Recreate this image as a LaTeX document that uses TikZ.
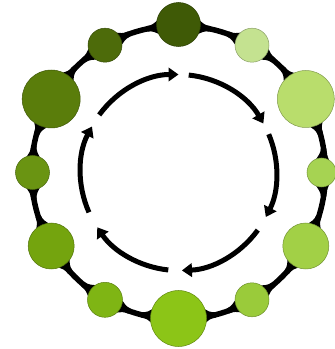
\documentclass[tikz,border=0pt]{standalone}
\usetikzlibrary{arrows.meta,calc}
\definecolor{c1}{HTML}{3F5A06}
\definecolor{c2}{HTML}{4D6B0A}
\definecolor{c3}{HTML}{5A7D0B}
\definecolor{c4}{HTML}{6A9412}
\definecolor{c5}{HTML}{74A40E}
\definecolor{c6}{HTML}{7FB514}
\definecolor{c7}{HTML}{8CC517}
\definecolor{c8}{HTML}{9ACB3A}
\definecolor{c9}{HTML}{A2D046}
\definecolor{c10}{HTML}{A6D352}
\definecolor{c11}{HTML}{B9DD6C}
\definecolor{c12}{HTML}{C4E290}
\tikzset{
  ball/.style={circle, inner sep=0pt, line width=0.5pt},
  arr/.style={line width=5pt, -{Triangle[length=10pt,width=13.5pt]}},
  ringline/.style={line width=5.5pt, black}
}
\begin{document}
\begin{tikzpicture}[x=1pt,y=1pt]
\useasboundingbox (0,0) rectangle (335,349);
\coordinate (O) at (178.5,176.5);
\def\R{147}
\draw[ringline] (O) circle[radius=\R];
\foreach \ang/\rad/\dist/\col [count=\i] in {90/22/148/c1, 120/17/147/c2, 150/29/147/c3, 180/17/146/c4, 210/23/147/c5, 240/17.5/147/c6, 270/28/146/c7, 300/17/147/c8, 330/23/147/c9, 360/14.5/143/c10, 30/28.5/147/c11, 60/17/147/c12}{
  \foreach \s in {1,-1}{
    \pgfmathsetmacro\dl{(\rad+9)/\R*180/pi}
    \pgfmathsetmacro\ex{\R*cos(\ang+(\s)*\dl)-\dist*cos(\ang)}
    \pgfmathsetmacro\ey{\R*sin(\ang+(\s)*\dl)-\dist*sin(\ang)}
    \pgfmathsetmacro\rot{atan2(\ey,\ex)}
    \pgfmathsetmacro\L{veclen(\ex,\ey)}
    \pgfmathsetmacro\xo{sqrt(\rad*\rad-42.25)}
    \pgfmathsetmacro\ca{\rad+1.5}
    \pgfmathsetmacro\cb{\L-5}
    \pgfmathsetmacro\Le{\L+0.6}
    \begin{scope}[shift={(O)},shift={(\ang:\dist)},rotate=\rot]
      \fill[black] (\xo,6.5) .. controls (\ca,5) and (\cb,2.75) .. (\Le,2.75)
        -- (\Le,-2.75) .. controls (\cb,-2.75) and (\ca,-5) .. (\xo,-6.5) -- cycle;
    \end{scope}
  }
  \pgfmathsetmacro\dia{2*\rad}
  \node[ball, fill=\col, draw=\col!70!black, minimum size=\dia pt] (b\i) at ($(O)+(\ang:\dist)$) {};
}
\foreach \a/\b in {144/90, 84/30, 23/-27, -36/-88, -96/-146, 204/152}{
  \draw[arr] ($(O)+(\a:98)$) arc[start angle=\a, end angle=\b, radius=98];
}
\end{tikzpicture}
\end{document}
